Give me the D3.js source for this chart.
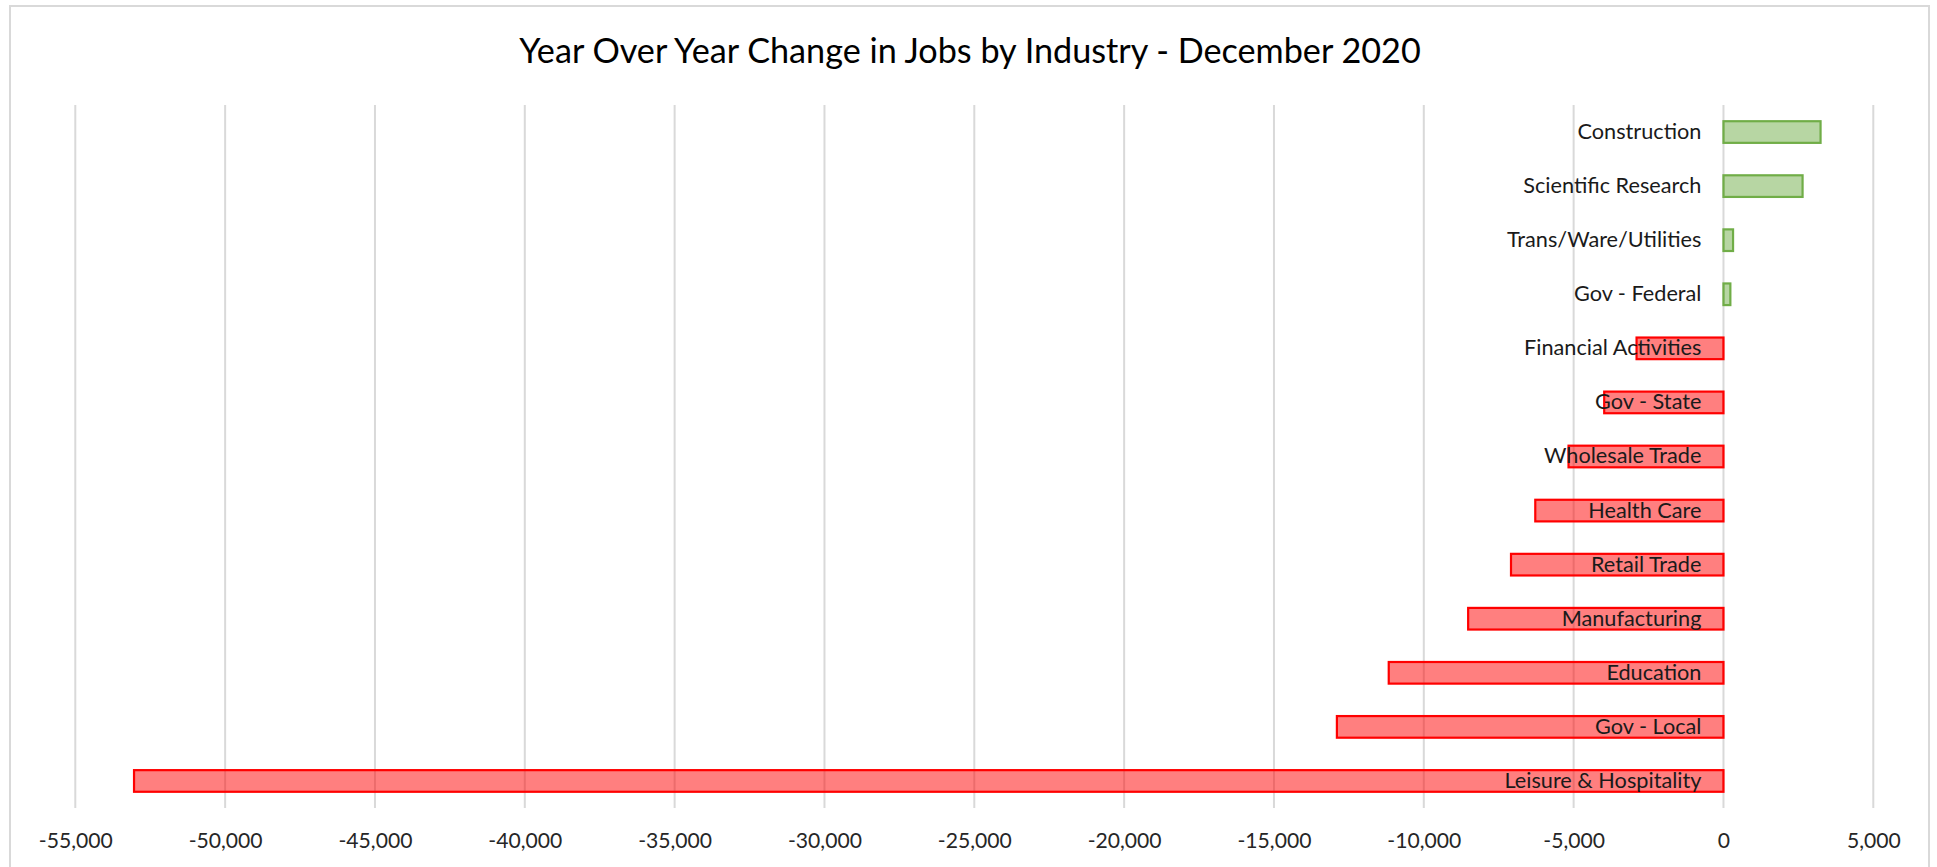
<!DOCTYPE html>
<html>
<head>
<meta charset="utf-8">
<script src="https://cdn.jsdelivr.net/npm/d3@7"></script>
<style>
  html, body { margin: 0; padding: 0; background: #fff; }
  svg { display: block; }
</style>
</head>
<body>
<svg id="chart" width="1937" height="867"></svg>
<script>
// ---- data ----
const title = "Year Over Year Change in Jobs by Industry - December 2020";
const categories = [
  "Construction", "Scientific Research", "Trans/Ware/Utilities", "Gov - Federal",
  "Financial Activities", "Gov - State", "Wholesale Trade", "Health Care",
  "Retail Trade", "Manufacturing", "Education", "Gov - Local", "Leisure & Hospitality"
];
const values = [3240, 2640, 320, 230, -2900, -3980, -5170, -6280, -7090, -8520, -11170, -12900, -53040];
const tickValues = [-55000, -50000, -45000, -40000, -35000, -30000, -25000, -20000, -15000, -10000, -5000, 0, 5000];

// ---- layout ----
const W = 1937, H = 867;
const plot = { left: 75.3, right: 1873.3, top: 105, bottom: 808 };
const FONT = "Lato, 'Open Sans', 'Noto Sans', sans-serif";

const svg = d3.select("#chart");

// font fitting helper: size so that sample text reaches target width
function fitSize(sample, targetWidth) {
  const t = svg.append("text").attr("font-family", FONT).attr("font-size", 100).text(sample);
  const w = t.node().getComputedTextLength();
  t.remove();
  return 100 * targetWidth / w;
}
const titleSize = fitSize(title, 902);
const labelSize = fitSize("Construction", 124);
const tickSize = fitSize("-55,000", 74);

// chart border
svg.append("rect")
  .attr("x", 10).attr("y", 6)
  .attr("width", 1919).attr("height", H + 10)
  .attr("fill", "#fff").attr("stroke", "#D9D9D9").attr("stroke-width", 2);

const x = d3.scaleLinear().domain([-55000, 5000]).range([plot.left, plot.right]);
const y = d3.scaleBand().domain(categories).range([plot.top, plot.bottom]);

// gridlines
svg.append("g").selectAll("line").data(tickValues).join("line")
  .attr("x1", d => x(d)).attr("x2", d => x(d))
  .attr("y1", plot.top).attr("y2", plot.bottom)
  .attr("stroke", "#D9D9D9").attr("stroke-width", 2);

// x axis (labels only), hyphen-minus like the original
const fmt = d3.format(",");
const xAxis = d3.axisBottom(x).tickValues(tickValues).tickSize(0).tickPadding(0)
  .tickFormat(d => fmt(d).replace("\u2212", "-"));
const gx = svg.append("g").attr("transform", `translate(0, ${plot.bottom})`).call(xAxis);
gx.select(".domain").remove();
gx.selectAll("text")
  .attr("font-family", FONT).attr("font-size", tickSize).attr("fill", "#262626")
  .attr("dy", null).attr("y", 40);

// bars
const barH = y.bandwidth() / 2.5;
svg.append("g").selectAll("rect").data(categories).join("rect")
  .attr("x", (d, i) => x(Math.min(0, values[i])))
  .attr("width", (d, i) => Math.abs(x(values[i]) - x(0)))
  .attr("y", d => y(d) + (y.bandwidth() - barH) / 2)
  .attr("height", barH)
  .attr("fill", (d, i) => values[i] >= 0 ? "#70AD47" : "#FF0000")
  .attr("fill-opacity", 0.5)
  .attr("stroke", (d, i) => values[i] >= 0 ? "#70AD47" : "#FF0000")
  .attr("stroke-width", 2.2);

// category labels (drawn over bars)
const labelAxis = d3.axisLeft(y).tickSize(0).tickPadding(0);
const gy = svg.append("g").attr("transform", `translate(${x(0) - 22}, 0)`).call(labelAxis);
gy.select(".domain").remove();
gy.selectAll("text")
  .attr("font-family", FONT).attr("font-size", labelSize).attr("fill", "#1a1a1a");

// title
svg.append("text")
  .attr("x", 970).attr("y", 63)
  .attr("text-anchor", "middle")
  .attr("font-family", FONT).attr("font-size", titleSize).attr("fill", "#000")
  .text(title);
</script>
</body>
</html>
